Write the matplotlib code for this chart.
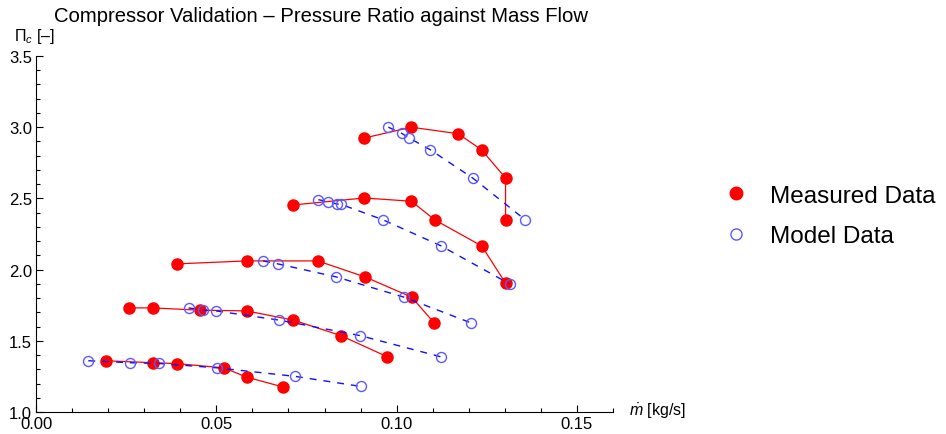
import matplotlib.pyplot as plt
from matplotlib.lines import Line2D
from matplotlib.ticker import MultipleLocator

plt.rcParams['font.family'] = ['Liberation Sans', 'DejaVu Sans']
plt.rcParams['mathtext.fontset'] = 'custom'
plt.rcParams['mathtext.rm'] = 'Liberation Sans'
plt.rcParams['mathtext.it'] = 'Liberation Sans:italic'

# measured data, one list per speed line (mass flow [kg/s], pressure ratio [-])
meas_x = [
    [0.0193, 0.0324, 0.0390, 0.0521, 0.0584, 0.0686],
    [0.0259, 0.0324, 0.0455, 0.0584, 0.0714, 0.0845, 0.0974],
    [0.0390, 0.0584, 0.0781, 0.0912, 0.1042, 0.1104],
    [0.0714, 0.0910, 0.1041, 0.1106, 0.1236, 0.1302],
    [0.0910, 0.1041, 0.1171, 0.1236, 0.1302, 0.1302],
]
meas_y = [
    [1.36, 1.346, 1.34, 1.31, 1.245, 1.175],
    [1.731, 1.731, 1.715, 1.71, 1.645, 1.537, 1.388],
    [2.04, 2.061, 2.061, 1.949, 1.806, 1.626],
    [2.454, 2.503, 2.48, 2.349, 2.166, 1.905],
    [2.924, 3.0, 2.954, 2.84, 2.643, 2.349],
]

# model data
model_x = [
    [0.0145, 0.0261, 0.0340, 0.0503, 0.0719, 0.0900],
    [0.0423, 0.0464, 0.0499, 0.0675, 0.0898, 0.1122],
    [0.0630, 0.0671, 0.0832, 0.1021, 0.1206],
    [0.0783, 0.0811, 0.0834, 0.0845, 0.0961, 0.1122, 0.1313],
    [0.0977, 0.1014, 0.1035, 0.1093, 0.1211, 0.1357],
]
model_y = [
    [1.36, 1.346, 1.341, 1.31, 1.25, 1.18],
    [1.731, 1.715, 1.71, 1.645, 1.537, 1.388],
    [2.061, 2.04, 1.949, 1.806, 1.626],
    [2.491, 2.477, 2.461, 2.459, 2.351, 2.168, 1.90],
    [3.0, 2.957, 2.924, 2.842, 2.643, 2.349],
]

fig = plt.figure(figsize=(9.46, 4.35), dpi=100)
ax = fig.add_axes([36 / 946, 22 / 435, 577 / 946, 356 / 435])

for xs, ys in zip(meas_x, meas_y):
    ax.plot(xs, ys, color='red', lw=0.9, marker='o', ms=8, mec='red', mfc='red',
            clip_on=False, zorder=3)

for xs, ys in zip(model_x, model_y):
    ax.plot(xs, ys, color='#1010ff', lw=1.0, dashes=(5, 5), clip_on=False, zorder=4)
    ax.plot(xs, ys, ls='none', marker='o', ms=7.2, mec='#5a5aff', mfc='none', mew=1.0,
            clip_on=False, zorder=5)

ax.set_xlim(0, 0.16)
ax.set_ylim(1.0, 3.5)
ax.spines['top'].set_visible(False)
ax.spines['right'].set_visible(False)
ax.xaxis.set_major_locator(MultipleLocator(0.05))
ax.xaxis.set_minor_locator(MultipleLocator(0.01))
ax.yaxis.set_major_locator(MultipleLocator(0.5))
ax.yaxis.set_minor_locator(MultipleLocator(0.1))
ax.xaxis.set_major_formatter(lambda v, p: f"{v:.2f}")
ax.yaxis.set_major_formatter(lambda v, p: f"{v:.1f}")
ax.tick_params(which='both', direction='in', labelsize=12, pad=3, width=0.8)
ax.tick_params(which='major', length=5)
ax.tick_params(which='minor', length=3)

fig.text(54 / 946, 1 - 16 / 435, "Compressor Validation \u2013 Pressure Ratio against Mass Flow",
         fontsize=14.6, ha='left', va='center')
fig.text(14 / 946, 1 - 37 / 435, "\u03a0$_{c}$ [\u2013]", fontsize=11.5, ha='left', va='center')
fig.text(629 / 946, 1 - 411 / 435, r"$\dot{m}$ [kg/s]", fontsize=11.5, ha='left', va='center')

handles = [
    Line2D([], [], ls='none', marker='o', ms=9, mec='red', mfc='red'),
    Line2D([], [], ls='none', marker='o', ms=8, mec='#5a5aff', mfc='none', mew=1.0),
]
ax.legend(handles, ['Measured Data', 'Model Data'], loc='center left',
          bbox_to_anchor=(726 / 946, 1 - 217 / 435), bbox_transform=fig.transFigure,
          frameon=False, fontsize=17.5, handlelength=0.8, handletextpad=1.0,
          labelspacing=0.75, borderpad=0, borderaxespad=0)

fig.savefig('out.png', dpi=100)
